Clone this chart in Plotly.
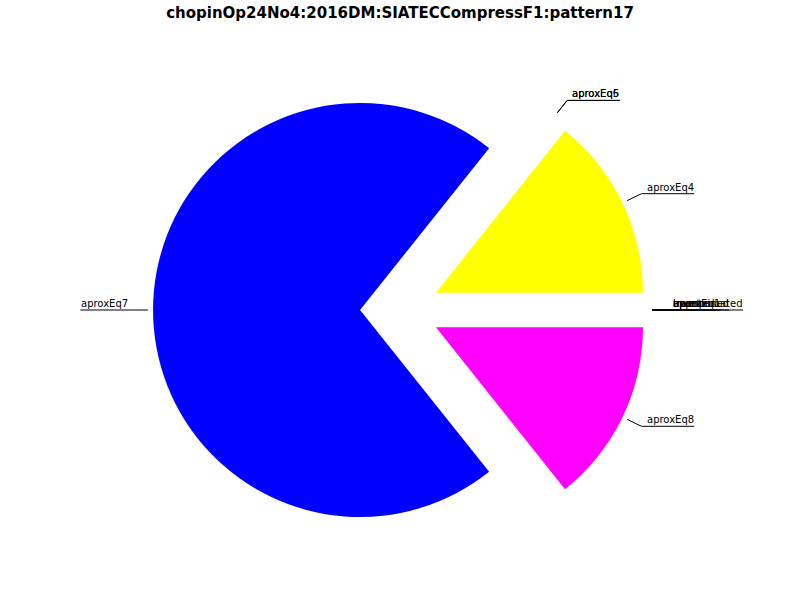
import math
import plotly.graph_objects as go

title = "chopinOp24No4:2016DM:SIATECCompressF1:pattern17"
labels = ["exact", "transposed", "inverted", "aproxEq4", "aproxEq5", "aproxEq6",
          "aproxEq7", "aproxEq8", "approximated", "aproxEq1"]
values = [0, 0, 0, 1, 0, 0, 5, 1, 0, 0]
colors = ["#008000", "#ff0000", "#00bfbf", "#ffff00", "#000000", "#ffffff",
          "#0000ff", "#ff00ff", "#008000", "#ff0000"]

W, H = 800, 600
CX, CY = 400, 310      # pie centre (px)
R = 207                # radius (px)
PULL = 0.193           # explode fraction
FONT = "DejaVu Sans"
FS = 10

# approximate DejaVu Sans advance widths (em)
CW = {'a': .613, 'p': .635, 'r': .411, 'o': .612, 'x': .592, 'E': .632, 'q': .635,
      'e': .615, 't': .392, 'd': .635, 'n': .634, 's': .521, 'i': .278, 'v': .592,
      'g': .635, 'c': .550, 'l': .278, 'u': .634, 'f': .352, 'm': .974, 'h': .634}
def tw(s):
    return sum(CW.get(ch, .636) for ch in s) * FS

half = R * (1 + PULL)
dom_x = [(CX - half) / W, (CX + half) / W]
dom_y = [(H - CY - half) / H, (H - CY + half) / H]

fig = go.Figure(go.Pie(
    labels=labels, values=values, sort=False, direction="counterclockwise",
    rotation=90, pull=[PULL] * len(values), textinfo="none", hoverinfo="label+value",
    marker=dict(colors=colors, line=dict(width=0)), showlegend=False,
    domain=dict(x=dom_x, y=dom_y)))

def px(x):
    return x / W
def py(y):
    return 1 - y / H

total = sum(values)
cum = 0
shapes, annots = [], []
for lab, v in zip(labels, values):
    mid = 2 * math.pi * (cum + v / 2) / total
    cum += v
    c, s = math.cos(mid), math.sin(mid)
    ex, ey = CX + PULL * R * c, CY - PULL * R * s
    ax, ay = ex + 1.025 * R * c, ey - 1.025 * R * s
    kx, ky = CX + 1.295 * R * c, CY - 1.295 * R * s
    w = tw(lab)
    if c >= 0:
        endx = kx + 4 + w + 1
        tx, anchor = kx + 4, "left"
    else:
        endx = kx - 3 - w - 1
        tx, anchor = kx - 3, "right"
    for (x0, y0, x1, y1) in [(ax, ay, kx, ky), (kx, ky, endx, ky)]:
        shapes.append(dict(type="line", xref="paper", yref="paper",
                           x0=px(x0), y0=py(y0), x1=px(x1), y1=py(y1),
                           line=dict(color="black", width=1)))
    annots.append(dict(text=lab, xref="paper", yref="paper", x=px(tx), y=py(ky),
                       xanchor=anchor, yanchor="bottom", showarrow=False,
                       borderpad=0, font=dict(family=FONT, size=FS, color="black")))

fig.update_layout(
    width=W, height=H, margin=dict(l=0, r=0, t=0, b=0),
    paper_bgcolor="white", plot_bgcolor="white",
    title=dict(text="<b>" + title + "</b>", x=0.5, xanchor="center",
               y=1 - 13 / H, yanchor="middle", yref="container",
               font=dict(family=FONT, size=15, color="black")),
    shapes=shapes, annotations=annots)

fig.write_html("out.html", config={"displayModeBar": False},
               post_script="document.body.style.margin='0';")
